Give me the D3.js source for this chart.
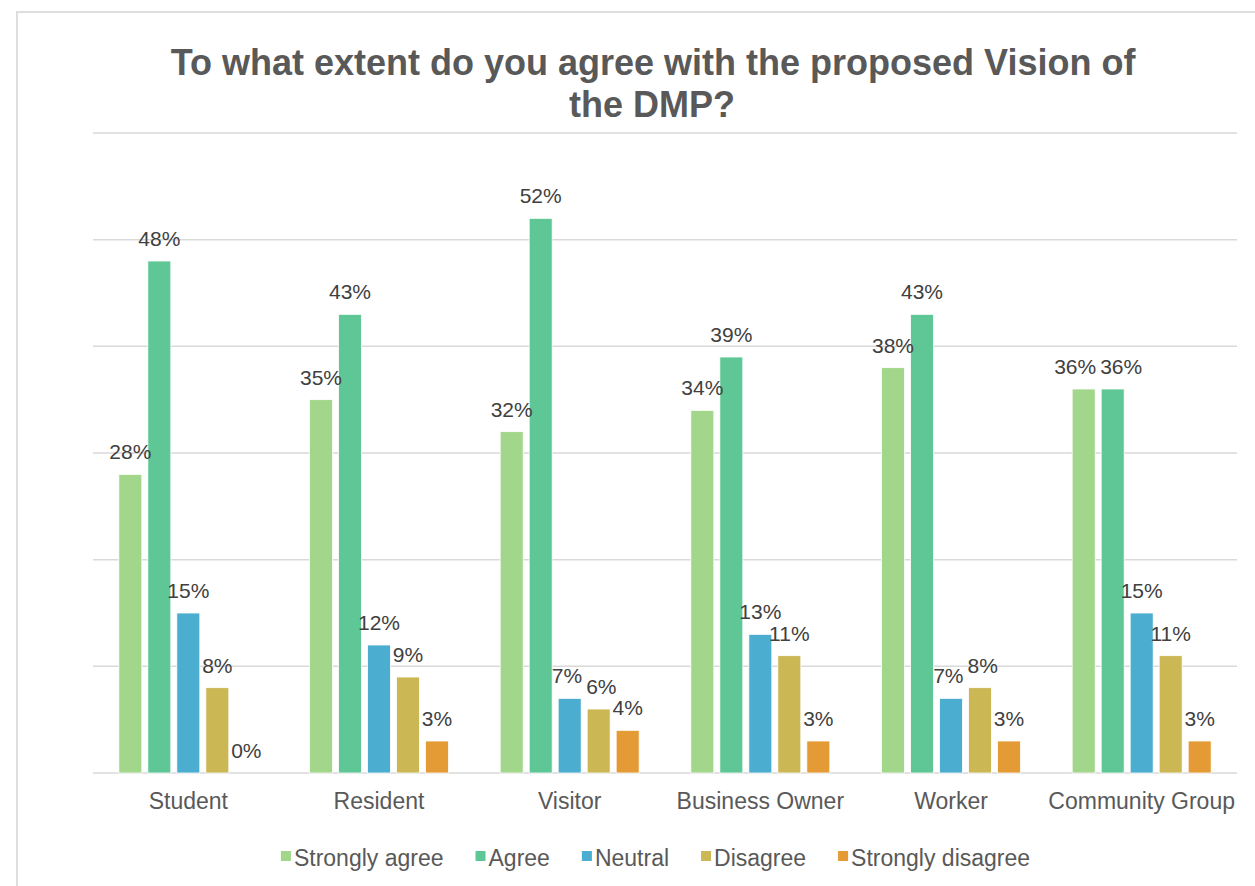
<!DOCTYPE html>
<html>
<head>
<meta charset="utf-8">
<script src="https://cdn.jsdelivr.net/npm/d3@7/dist/d3.min.js"></script>
<style>
  html, body { margin: 0; padding: 0; background: #fff; }
  svg { display: block; font-family: "Liberation Sans", Arial, Helvetica, sans-serif; }
</style>
</head>
<body>
<svg id="chart" width="1255" height="886"></svg>
<script>
// Survey responses by respondent type (percent)
const categories = ["Student", "Resident", "Visitor", "Business Owner", "Worker", "Community Group"];
const seriesNames = ["Strongly agree", "Agree", "Neutral", "Disagree", "Strongly disagree"];
const stronglyAgree    = [28, 35, 32, 34, 38, 36];
const agree            = [48, 43, 52, 39, 43, 36];
const neutral          = [15, 12, 7, 13, 7, 15];
const disagree         = [8, 9, 6, 11, 8, 11];
const stronglyDisagree = [0, 3, 4, 3, 3, 3];
const yTicks = [0, 10, 20, 30, 40, 50, 60];
const seriesColors = ["#a1d68b", "#5fc796", "#4badd0", "#ccb755", "#e49b36"];

const seriesValues = [stronglyAgree, agree, neutral, disagree, stronglyDisagree];
const rows = categories.map((c, i) => ({
  category: c,
  values: seriesNames.map((s, j) => ({ series: s, value: seriesValues[j][i], idx: j }))
}));

const svg = d3.select("#chart");

// Outer frame
svg.append("rect")
  .attr("x", 17).attr("y", 12)
  .attr("width", 1400).attr("height", 1000)
  .attr("fill", "none")
  .attr("stroke", "#dedede")
  .attr("stroke-width", 2);

// Title
const title = svg.append("text")
  .attr("text-anchor", "middle")
  .attr("fill", "#595959")
  .attr("font-weight", "bold")
  .attr("font-size", 36);
title.append("tspan").attr("x", 653).attr("y", 75).text("To what extent do you agree with the proposed Vision of");
title.append("tspan").attr("x", 652).attr("y", 117).text("the DMP?");

// Scales
const x0 = d3.scaleBand()
  .domain(categories)
  .range([93, 1237])
  .paddingInner(0.271)
  .paddingOuter(0.1355);

const x1 = d3.scaleBand()
  .domain(seriesNames)
  .range([0, x0.bandwidth()])
  .paddingInner(6 / 29)
  .paddingOuter(0);

const y = d3.scaleLinear().domain([0, 60]).range([773, 133]);

const color = d3.scaleOrdinal().domain(seriesNames).range(seriesColors);

// Horizontal gridlines
svg.append("g")
  .selectAll("line")
  .data(yTicks)
  .join("line")
  .attr("x1", 93).attr("x2", 1237)
  .attr("y1", d => y(d)).attr("y2", d => y(d))
  .attr("stroke", "#d9d9d9")
  .attr("stroke-width", 1.5);

// Bars
const groups = svg.append("g")
  .selectAll("g")
  .data(rows)
  .join("g")
  .attr("transform", d => `translate(${x0(d.category)},0)`);

groups.selectAll("rect")
  .data(d => d.values)
  .join("rect")
  .attr("x", d => x1(d.series))
  .attr("y", d => y(d.value))
  .attr("width", x1.bandwidth())
  .attr("height", d => y(0) - y(d.value))
  .attr("fill", d => color(d.series))
  .attr("stroke", "#ffffff")
  .attr("stroke-width", 0.8);

// Value labels, nudged apart sideways when neighbours collide
groups.each(function () {
  const g = d3.select(this);
  const labels = g.selectAll("text.value")
    .data(d => d.values)
    .join("text")
    .attr("class", "value")
    .attr("x", d => x1(d.series) + x1.bandwidth() / 2)
    .attr("y", d => y(d.value) - 15)
    .attr("text-anchor", "middle")
    .attr("font-size", 21)
    .attr("fill", "#404040")
    .text(d => d.value + "%");

  const boxes = [];
  labels.each(function (d) {
    boxes.push({
      node: this,
      cx: x1(d.series) + x1.bandwidth() / 2,
      w: this.getComputedTextLength(),
      yy: y(d.value) - 15
    });
  });
  const gap = 4;
  for (let pass = 0; pass < 3; pass++) {
    for (let i = 1; i < boxes.length; i++) {
      const a = boxes[i - 1], b = boxes[i];
      if (Math.abs(a.yy - b.yy) >= 20) continue;
      const overlap = (a.cx + a.w / 2 + gap) - (b.cx - b.w / 2);
      if (overlap > 0) {
        a.cx -= overlap / 2;
        b.cx += overlap / 2;
      }
    }
  }
  boxes.forEach(b => d3.select(b.node).attr("x", b.cx));
});

// Category axis
const xAxis = svg.append("g")
  .attr("transform", `translate(0,${y(0)})`)
  .call(d3.axisBottom(x0).tickSize(0).tickPadding(0));
xAxis.select(".domain").remove();
xAxis.selectAll("text")
  .attr("dy", 0)
  .attr("y", 36)
  .attr("font-size", 23)
  .attr("font-family", "\"Liberation Sans\", Arial, Helvetica, sans-serif")
  .attr("fill", "#595959");

// Legend
const legend = svg.append("g");
const items = legend.selectAll("g")
  .data(seriesNames)
  .join("g");
items.append("rect")
  .attr("width", 10).attr("height", 10)
  .attr("y", -8)
  .attr("fill", d => color(d));
items.append("text")
  .attr("x", 13)
  .attr("y", 0)
  .attr("dy", "0.32em")
  .attr("font-size", 23)
  .attr("fill", "#595959")
  .text(d => d);

let cursor = 0;
const offsets = [];
items.each(function () {
  offsets.push(cursor);
  const w = d3.select(this).select("text").node().getComputedTextLength();
  cursor += 13 + w + 32;
});
const totalW = cursor - 32;
const startX = 655.5 - totalW / 2;
items.attr("transform", (d, i) => `translate(${startX + offsets[i]},${859})`);
</script>
</body>
</html>
